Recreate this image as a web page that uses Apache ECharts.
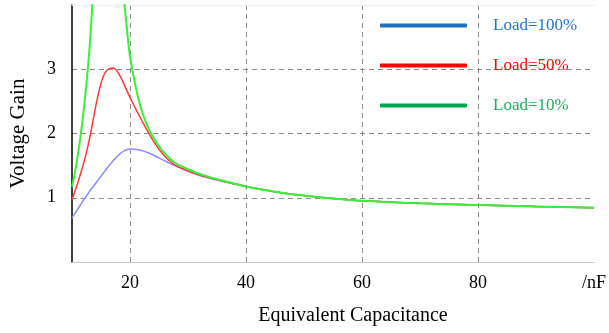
<!DOCTYPE html>
<html>
<head>
<meta charset="utf-8">
<script src="https://cdn.jsdelivr.net/npm/echarts@6/dist/echarts.min.js"></script>
<style>
  html, body { margin: 0; padding: 0; background: #fff; }
  #chart { width: 609px; height: 333px; }
</style>
</head>
<body>
<div id="chart"></div>
<script>
// Equivalent capacitance (nF) sample points
const capacitance = [10, 10.5, 11, 11.5, 12, 12.5, 13, 13.5, 14, 14.5, 15, 15.5, 16, 16.5, 17, 17.5, 18, 18.5, 19, 19.5,
  20, 21, 22, 23, 24, 25, 26, 27, 28, 30, 32, 35, 40, 45, 50, 55, 60, 70, 80, 90, 100];

// Voltage gain for each load level
const gainLoad100 = [0.685, 0.755, 0.825, 0.895, 0.965, 1.03, 1.095, 1.155, 1.215, 1.275, 1.335, 1.395, 1.455, 1.51, 1.565, 1.615, 1.66, 1.70, 1.73, 1.75,
  1.76, 1.755, 1.735, 1.705, 1.665, 1.62, 1.575, 1.53, 1.49, 1.41, 1.345, 1.275, 1.175, 1.095, 1.035, 0.99, 0.955, 0.915, 0.887, 0.865, 0.845];
const gainLoad50 = [0.97, 1.10, 1.235, 1.38, 1.535, 1.71, 1.91, 2.14, 2.38, 2.60, 2.78, 2.91, 2.98, 3.01, 3.02, 3.0, 2.94, 2.86, 2.76, 2.66,
  2.56, 2.38, 2.21, 2.04, 1.89, 1.755, 1.645, 1.56, 1.495, 1.42, 1.355, 1.283, 1.175, 1.095, 1.035, 0.99, 0.955, 0.915, 0.887, 0.865, 0.845];
const gainLoad10 = [1.17, 1.39, 1.66, 1.98, 2.35, 2.78, 3.30, 4.0, 5.0, 6.2, 7.3, 8.1, 8.4, 8.1, 7.2, 6.1, 5.25, 4.6, 4.05, 3.6,
  3.2, 2.72, 2.36, 2.12, 1.94, 1.80, 1.69, 1.60, 1.53, 1.445, 1.37, 1.29, 1.175, 1.095, 1.035, 0.99, 0.955, 0.915, 0.887, 0.865, 0.845];

const seriesNames = ['Load=100%', 'Load=50%', 'Load=10%'];
const yTickLabels = ['1', '2', '3'];
const xTickLabels = ['20', '40', '60', '80'];
const xUnitLabel = '/nF';

const serif = '"Liberation Serif", "Times New Roman", serif';

function pairs(ys) {
  return capacitance.map((x, i) => [x, ys[i]]);
}

const chart = echarts.init(document.getElementById('chart'), null, { renderer: 'canvas' });

chart.setOption({
  animation: false,
  backgroundColor: '#fff',
  grid: { left: 72, right: 11, top: 5, bottom: 71 },
  legend: {
    orient: 'vertical',
    left: 375,
    top: 12,
    itemWidth: 87,
    itemHeight: 4,
    itemGap: 23,
    icon: 'roundRect',
    textStyle: { fontFamily: serif, fontSize: 17, padding: [0, 0, 0, 21] },
    data: [
      { name: seriesNames[0], itemStyle: { color: '#1f70c1' }, textStyle: { color: '#2874c2' } },
      { name: seriesNames[1], itemStyle: { color: '#ff0000' }, textStyle: { color: '#ff0000' } },
      { name: seriesNames[2], itemStyle: { color: '#00a650' }, textStyle: { color: '#1fae5a' } }
    ]
  },
  xAxis: [{
    type: 'value',
    min: 10,
    max: 100,
    interval: 10,
    name: 'Equivalent Capacitance',
    nameLocation: 'middle',
    nameGap: 44,
    nameTextStyle: { fontFamily: serif, fontSize: 20, color: '#000', padding: [0, 0, 0, 40] },
    axisLine: { show: true, lineStyle: { color: '#c8c8c8', width: 1 } },
    axisTick: { show: false },
    axisLabel: {
      fontFamily: serif, fontSize: 18, color: '#000', margin: 12,
      formatter: v => {
        if (v === 100) return xUnitLabel;
        const s = String(v);
        return xTickLabels.includes(s) ? s : '';
      }
    },
    splitLine: {
      show: true,
      showMaxLine: false,
      lineStyle: { color: ['rgba(0,0,0,0)', '#8c8c8c'], type: [5, 4], width: 1 }
    }
  }, {
    type: 'value',
    position: 'top',
    min: 10,
    max: 100,
    axisLine: { show: true, lineStyle: { color: '#eeeeee', width: 1 } },
    axisTick: { show: false },
    axisLabel: { show: false },
    splitLine: { show: false }
  }],
  yAxis: {
    type: 'value',
    min: 0,
    max: 4,
    interval: 1,
    name: 'Voltage Gain',
    nameLocation: 'middle',
    nameGap: 43,
    nameTextStyle: { fontFamily: serif, fontSize: 21, color: '#000' },
    axisLine: { show: true, lineStyle: { color: '#000', width: 1.5 } },
    axisTick: { show: false },
    axisLabel: {
      fontFamily: serif, fontSize: 18, color: '#000', margin: 16,
      formatter: v => (yTickLabels.includes(String(v)) ? String(v) : '')
    },
    splitLine: {
      show: true,
      showMinLine: false,
      showMaxLine: false,
      lineStyle: { color: '#8c8c8c', type: [5, 4], width: 1 }
    }
  },
  series: [
    {
      name: seriesNames[0], type: 'line', data: pairs(gainLoad100),
      symbol: 'none', smooth: 0.3, clip: true,
      lineStyle: { color: '#8c8cff', width: 1.5 }, itemStyle: { color: '#8c8cff' }
    },
    {
      name: seriesNames[1], type: 'line', data: pairs(gainLoad50),
      symbol: 'none', smooth: 0.3, clip: true,
      lineStyle: { color: '#ff3838', width: 1.5 }, itemStyle: { color: '#ff3838' }
    },
    {
      name: seriesNames[2], type: 'line', data: pairs(gainLoad10),
      symbol: 'none', smooth: 0.3, clip: true,
      lineStyle: { color: '#38f038', width: 2 }, itemStyle: { color: '#38f038' }
    }
  ]
});
</script>
</body>
</html>
